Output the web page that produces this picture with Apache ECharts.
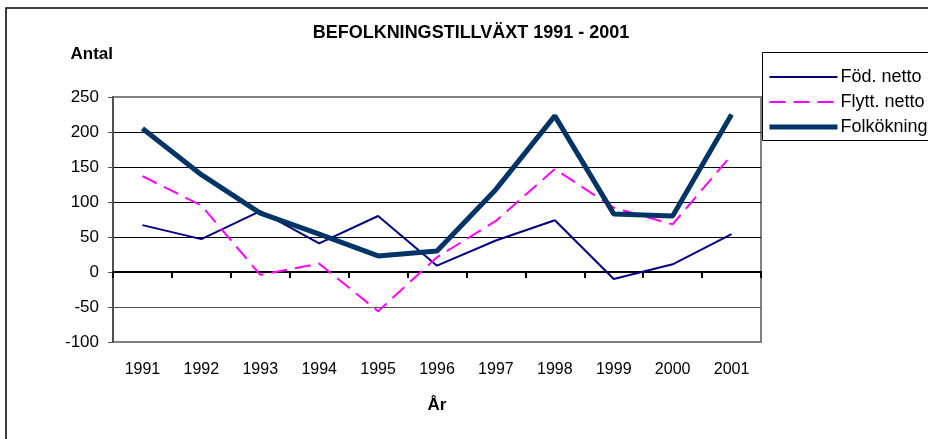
<!DOCTYPE html>
<html>
<head>
<meta charset="utf-8">
<script src="https://cdn.jsdelivr.net/npm/echarts@6/dist/echarts.min.js"></script>
<style>html,body{margin:0;padding:0;background:#fff;}#c{width:928px;height:439px;}</style>
</head>
<body>
<div id="c"></div>
<script>
const years = ['1991','1992','1993','1994','1995','1996','1997','1998','1999','2000','2001'];
const fodNetto = [67, 47, 87, 41, 80, 9, 45, 74, -10, 11, 54];
const flyttNetto = [137, 95, -4, 12, -56, 21, 73, 147, 92, 68, 167];
const folkokning = [205, 139, 84, 54, 23, 30, 118, 223, 83, 80, 225];
const yTicks = [-100, -50, 0, 50, 100, 150, 200, 250];

const FONT = '"Liberation Sans", Arial, sans-serif';
const chart = echarts.init(document.getElementById('c'), null, {renderer: 'canvas'});
chart.setOption({
  animation: false,
  backgroundColor: '#fff',
  graphic: [
    {type: 'rect', shape: {x: 6, y: 8, width: 1200, height: 1200}, style: {fill: 'none', stroke: '#000', lineWidth: 1.5}, z: 0, silent: true},
    {type: 'rect', shape: {x: 762.5, y: 52.5, width: 400, height: 88}, style: {fill: '#fff', stroke: '#000', lineWidth: 1}, z: 10, silent: true},
    {type: 'text', x: 471, y: 33, style: {text: 'BEFOLKNINGSTILLVÄXT 1991 - 2001', font: 'bold 18px ' + FONT, fill: '#000', textAlign: 'center', textVerticalAlign: 'middle'}, z: 10}
  ],
  grid: {left: 113, right: 167, top: 97, bottom: 97, show: true, borderColor: '#808080', borderWidth: 2, backgroundColor: 'transparent'},
  legend: {
    orient: 'vertical', left: 762, top: 52,
    backgroundColor: 'transparent', borderWidth: 0,
    padding: [16, 0, 5, 5], itemWidth: 68, itemHeight: 14, itemGap: 7,
    itemStyle: {opacity: 0},
    lineStyle: {width: 'inherit'},
    textStyle: {fontFamily: FONT, fontSize: 18, color: '#000', padding: [0, 0, 0, -2]},
    data: ['Föd. netto', 'Flytt. netto', 'Folkökning'],
    z: 20
  },
  xAxis: [
    {
      type: 'category', data: years, position: 'bottom', boundaryGap: true,
      axisLine: {show: false, onZero: false},
      axisTick: {show: false},
      axisLabel: {fontFamily: FONT, fontSize: 16, color: '#000', margin: 20},
      name: 'År', nameLocation: 'middle', nameGap: 55,
      nameTextStyle: {fontFamily: FONT, fontSize: 17, fontWeight: 'bold', color: '#000'}
    },
    {
      type: 'category', data: years, position: 'bottom', boundaryGap: true,
      axisLine: {show: true, onZero: true, lineStyle: {color: '#000', width: 2}},
      axisTick: {show: true, length: 6, lineStyle: {color: '#000', width: 2}},
      axisLabel: {show: false}
    }
  ],
  yAxis: {
    type: 'value', min: -100, max: 250, interval: 50,
    axisLine: {show: true, lineStyle: {color: '#505050', width: 2}},
    axisTick: {show: true, length: 5, lineStyle: {color: '#505050', width: 1}},
    axisLabel: {fontFamily: FONT, fontSize: 17, color: '#000', margin: 14},
    splitLine: {show: true, lineStyle: {color: ['#808080', '#555', '#000', '#000', '#000', '#000', '#000', '#808080'], width: 1}},
    name: 'Antal', nameLocation: 'end', nameGap: 43,
    nameTextStyle: {fontFamily: FONT, fontSize: 17, fontWeight: 'bold', color: '#000', align: 'right', verticalAlign: 'middle'}
  },
  series: [
    {name: 'Föd. netto', type: 'line', data: fodNetto, xAxisIndex: 0, symbol: 'none', lineStyle: {color: '#000080', width: 2}, itemStyle: {color: '#000080'}},
    {name: 'Flytt. netto', type: 'line', data: flyttNetto, xAxisIndex: 0, symbol: 'none', lineStyle: {color: '#FF00FF', width: 2, type: [16, 8]}, itemStyle: {color: '#FF00FF'}},
    {name: 'Folkökning', type: 'line', data: folkokning, xAxisIndex: 0, symbol: 'none', lineStyle: {color: '#003366', width: 5}, itemStyle: {color: '#003366'}}
  ]
});
</script>
</body>
</html>
